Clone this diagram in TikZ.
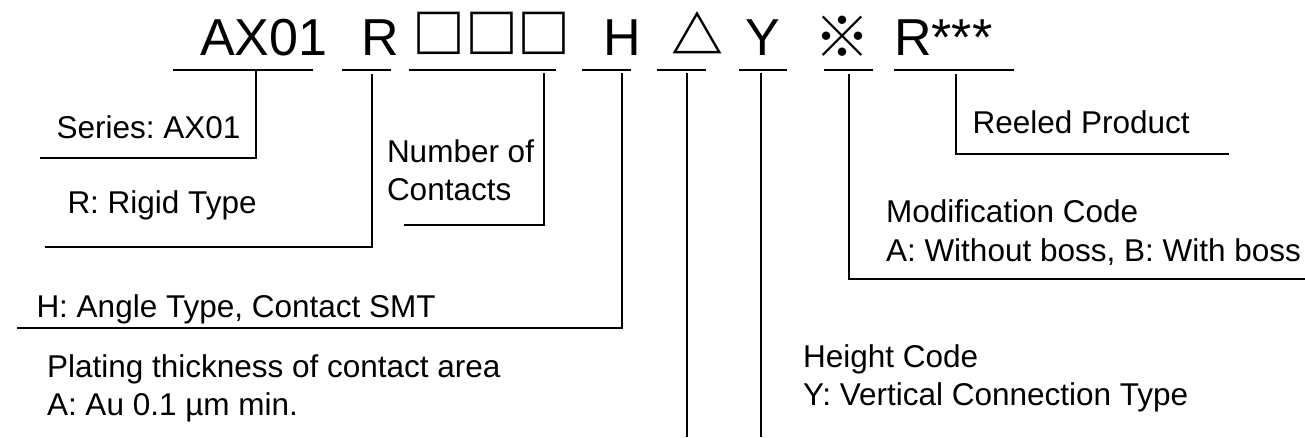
\documentclass[tikz,border=0pt]{standalone}
\usepackage{fontspec}
\setmainfont{Liberation Sans}
\newfontfamily\cjkfont{Noto Sans CJK JP}
\frenchspacing
\begin{document}
\begin{tikzpicture}[x=1pt,y=-1pt,
  ln/.style={line width=2.8pt},
  big/.style={font=\fontsize{52}{60}\selectfont, inner sep=0pt, outer sep=0pt},
  sym/.style={font=\cjkfont\bfseries\fontsize{53}{60}\selectfont, inner sep=0pt, outer sep=0pt},
  lbl/.style={font=\fontsize{31.5}{38}\selectfont, inner sep=0pt, outer sep=0pt, anchor=base west}]
\useasboundingbox (0,0) rectangle (1305,437);
\fill[white] (0,0) rectangle (1305,437);
% code segments
\node[big, anchor=base west] (ax) at (200,55) {AX01};
\node[big, anchor=base] (r) at (380.5,55) {R};
\node[sym, anchor=base] (b1) at (439,53) {□};
\node[sym, anchor=base] (b2) at (491.5,53) {□};
\node[sym, anchor=base] (b3) at (544,53) {□};
\node[big, anchor=base] (h) at (622,55) {H};
\node[sym, anchor=base, font=\cjkfont\bfseries\fontsize{52}{60}\selectfont] (tri) at (697,54) {△};
\node[big, anchor=base] (y) at (762.5,55) {Y};
\node[sym, anchor=base, font=\cjkfont\bfseries\fontsize{56}{64}\selectfont] (kome) at (842,57) {※};
\node[big, anchor=base west] (reel) at (894,55) {R***};
% underlines
\coordinate (u1a) at (173,70); \coordinate (u1b) at (313,70);
\coordinate (u2a) at (342,70); \coordinate (u2b) at (391,70);
\coordinate (u3a) at (409,70); \coordinate (u3b) at (556,70);
\coordinate (u4a) at (582,70); \coordinate (u4b) at (631,70);
\coordinate (u5a) at (657,70); \coordinate (u5b) at (706,70);
\coordinate (u6a) at (739,70); \coordinate (u6b) at (787,70);
\coordinate (u7a) at (824,70); \coordinate (u7b) at (873,70);
\coordinate (u8a) at (894,70); \coordinate (u8b) at (1014,70);
\foreach \i in {1,...,8} { \draw[ln] (u\i a) -- (u\i b); }
% leader lines
\coordinate (v1) at (256,70);  \coordinate (e1) at (40,158);
\coordinate (v2) at (372,74);  \coordinate (e2) at (45,247);
\coordinate (v3) at (544,73);  \coordinate (e3) at (404,225);
\coordinate (v4) at (622,73);  \coordinate (e4) at (17,328);
\coordinate (v5) at (687,73);  \coordinate (e5) at (687,437);
\coordinate (v6) at (761,73);  \coordinate (e6) at (761,437);
\coordinate (v7) at (849,74);  \coordinate (e7) at (1305,279);
\coordinate (v8) at (956,74);  \coordinate (e8) at (1229,154);
\draw[ln] (v1) |- (e1);
\draw[ln] (v2) |- (e2);
\draw[ln] (v3) |- (e3);
\draw[ln] (v4) |- (e4);
\draw[ln] (v5) -- (e5);
\draw[ln] (v6) -- (e6);
\draw[ln] (v7) |- (e7);
\draw[ln] (v8) |- (e8);
% labels
\node[lbl] (series) at (56.5,138) {Series: AX01};
\node[lbl] (rigid) at (67.5,213) {R: Rigid Type};
\node[lbl] (num1) at (387,162) {Number of};
\node[lbl] (num2) at (387,200) {Contacts};
\node[lbl] (angle) at (36.5,317) {H: Angle Type, Contact SMT};
\node[lbl] (plat1) at (47,377) {Plating thickness of contact area};
\node[lbl] (plat2) at (47,415) {A: Au 0.1 µm min.};
\node[lbl] (hgt1) at (803,367) {Height Code};
\node[lbl] (hgt2) at (803,405) {Y: Vertical Connection Type};
\node[lbl] (mod1) at (886,222) {Modification Code};
\node[lbl] (mod2) at (886,261) {A: Without boss, B: With boss};
\node[lbl] (reeled) at (972.5,133) {Reeled Product};
\end{tikzpicture}
\end{document}
